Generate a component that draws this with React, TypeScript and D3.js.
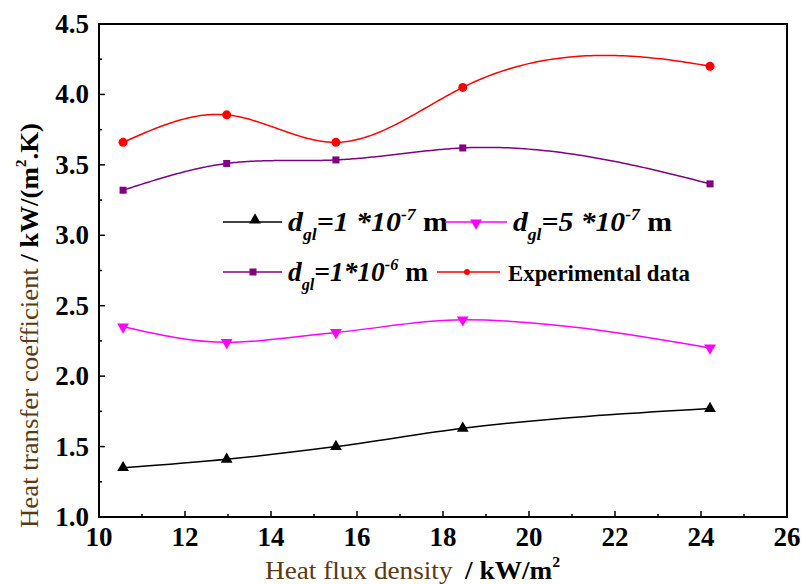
import React from "react";
import * as d3 from "d3";

const heatFlux = [10.56, 12.97, 15.51, 18.46, 24.21];
const series1e7 = [1.35, 1.41, 1.5, 1.63, 1.77];
const series5e7 = [2.35, 2.24, 2.31, 2.4, 2.2];
const series1e6 = [3.32, 3.51, 3.535, 3.62, 3.365];
const experimental = [3.66, 3.855, 3.66, 4.05, 4.2];
const xTicks = [10, 12, 14, 16, 18, 20, 22, 24, 26];
const yTicks = [1.0, 1.5, 2.0, 2.5, 3.0, 3.5, 4.0, 4.5];

const W = 804, H = 584;
const L = 99, R = 787, T = 24, B = 517;

// cubic spline (natural start, partial run-out end), sampled densely
function splinePoints(xs: number[], ys: number[], lamL: number, lamR: number): [number, number][] {
  const n = xs.length;
  const h = xs.slice(0, -1).map((v, i) => xs[i + 1] - v);
  const A: number[][] = Array.from({ length: n }, () => new Array(n + 1).fill(0));
  A[0][0] = 1; A[0][1] = -lamL;
  for (let i = 1; i < n - 1; i++) {
    A[i][i - 1] = h[i - 1];
    A[i][i] = 2 * (h[i - 1] + h[i]);
    A[i][i + 1] = h[i];
    A[i][n] = 6 * ((ys[i + 1] - ys[i]) / h[i] - (ys[i] - ys[i - 1]) / h[i - 1]);
  }
  const k = n - 1;
  A[k][k - 1] = -lamR; A[k][k] = 1;
  for (let c = 0; c < n; c++) {
    let p = c;
    for (let r = c + 1; r < n; r++) if (Math.abs(A[r][c]) > Math.abs(A[p][c])) p = r;
    [A[c], A[p]] = [A[p], A[c]];
    for (let r = 0; r < n; r++) {
      if (r === c) continue;
      const f = A[r][c] / A[c][c];
      for (let j = c; j <= n; j++) A[r][j] -= f * A[c][j];
    }
  }
  const M = A.map((row, i) => row[n] / row[i]);
  const out: [number, number][] = [];
  for (let i = 0; i < n - 1; i++) {
    const steps = 60;
    for (let s = 0; s <= steps; s++) {
      const t = xs[i] + (h[i] * s) / steps;
      const a = xs[i + 1] - t, b = t - xs[i];
      const v =
        (M[i] * a * a * a) / (6 * h[i]) +
        (M[i + 1] * b * b * b) / (6 * h[i]) +
        (ys[i] / h[i] - (M[i] * h[i]) / 6) * a +
        (ys[i + 1] / h[i] - (M[i + 1] * h[i]) / 6) * b;
      out.push([t, v]);
    }
  }
  return out;
}

export default function App() {
  const x = d3.scaleLinear().domain([10, 26]).range([L, R]);
  const y = d3.scaleLinear().domain([1, 4.5]).range([B, T]);
  const mk = (vals: number[], curve: any) =>
    d3.line<number>().x((_, i) => x(heatFlux[i])).y((v) => y(v)).curve(curve)(vals) || "";
  const mkSpline = (vals: number[], lamL: number, lamR: number) =>
    d3.line<[number, number]>().x((p) => x(p[0])).y((p) => y(p[1]))(splinePoints(heatFlux, vals, lamL, lamR)) || "";
  const font = "'Liberation Serif', 'DejaVu Serif', serif";
  const xMinor = d3.range(11, 26, 2);
  const yMinor = d3.range(1.25, 4.5, 0.5);
  const tri = d3.symbol().type(d3.symbolTriangle).size(60)();
  const sq = (cx: number, cy: number, c: string, k: string) => (
    <rect key={k} x={cx - 3.5} y={cy - 3.5} width={7} height={7} fill={c} />
  );
  const legendLabel = (xx: number, yy: number, num: string, exp: string, len: number) => (
    <text x={xx} y={yy} fontFamily={font} fontWeight="bold" fontSize={27} textLength={len} lengthAdjust="spacingAndGlyphs">
      <tspan fontStyle="italic">d</tspan>
      <tspan fontStyle="italic" fontSize={16} dy={9}>gl</tspan>
      <tspan fontStyle="italic" dy={-9}>{num}</tspan>
      <tspan fontStyle="italic" fontSize={16} dy={-11}>{exp}</tspan>
      <tspan dy={11}> m</tspan>
    </text>
  );
  return (
    <svg width={W} height={H} style={{ position: "absolute", left: 0, top: 0, background: "#fff" }}>
      <rect x={L} y={T} width={R - L} height={B - T} fill="none" stroke="#000" strokeWidth={2} />
      {xTicks.map((t) => (
        <g key={"xt" + t}>
          <line x1={x(t)} x2={x(t)} y1={B} y2={B - 6} stroke="#000" strokeWidth={1.5} />
          <text x={x(t)} y={B + 29} textAnchor="middle" fontFamily={font} fontWeight="bold" fontSize={27}>{t}</text>
        </g>
      ))}
      {xMinor.map((t) => (
        <line key={"xm" + t} x1={x(t)} x2={x(t)} y1={B} y2={B - 3} stroke="#000" strokeWidth={1.5} />
      ))}
      {yTicks.map((t) => (
        <g key={"yt" + t}>
          <line x1={L} x2={L + 6} y1={y(t)} y2={y(t)} stroke="#000" strokeWidth={1.5} />
          <text x={L - 10} y={y(t) + 9} textAnchor="end" fontFamily={font} fontWeight="bold" fontSize={27}>{t.toFixed(1)}</text>
        </g>
      ))}
      {yMinor.map((t) => (
        <line key={"ym" + t} x1={L} x2={L + 3} y1={y(t)} y2={y(t)} stroke="#000" strokeWidth={1.5} />
      ))}
      <path d={mk(series1e7, d3.curveMonotoneX)} fill="none" stroke="#000" strokeWidth={1.5} />
      <path d={mk(series5e7, d3.curveMonotoneX)} fill="none" stroke="#ff00ff" strokeWidth={1.5} />
      <path d={mkSpline(series1e6, 0, 0.15)} fill="none" stroke="#800080" strokeWidth={1.5} />
      <path d={mkSpline(experimental, 0, 0.2)} fill="none" stroke="#ff0000" strokeWidth={1.5} />
      {series1e7.map((v, i) => (
        <path key={"a" + i} d={tri} transform={`translate(${x(heatFlux[i])},${y(v)})`} fill="#000" />
      ))}
      {series5e7.map((v, i) => (
        <path key={"b" + i} d={tri} transform={`translate(${x(heatFlux[i])},${y(v)}) rotate(180)`} fill="#ff00ff" />
      ))}
      {series1e6.map((v, i) => sq(x(heatFlux[i]), y(v), "#800080", "c" + i))}
      {experimental.map((v, i) => (
        <circle key={"d" + i} cx={x(heatFlux[i])} cy={y(v)} r={4.5} fill="#ff0000" />
      ))}
      {/* legend */}
      <line x1={223} x2={282} y1={222} y2={222} stroke="#000" strokeWidth={1.5} />
      <path d={tri} transform="translate(255,220)" fill="#000" />
      {legendLabel(288, 231, "=1 *10", "-7", 160)}
      <line x1={445} x2={507} y1={222} y2={222} stroke="#ff00ff" strokeWidth={1.5} />
      <path d={tri} transform="translate(476,223) rotate(180)" fill="#ff00ff" />
      {legendLabel(513, 231, "=5 *10", "-7", 159)}
      <line x1={223} x2={282} y1={272} y2={272} stroke="#800080" strokeWidth={1.5} />
      {sq(253, 272, "#800080", "lsq")}
      {legendLabel(288, 281, "=1*10", "-6", 140)}
      <line x1={437} x2={500} y1={272} y2={272} stroke="#ff0000" strokeWidth={1.5} />
      <circle cx={467} cy={272} r={3} fill="#ff0000" />
      <text x={508} y={281} fontFamily={font} fontWeight="bold" fontSize={23} textLength={182} lengthAdjust="spacingAndGlyphs">Experimental data</text>
      {/* axis titles */}
      <text x={265} y={579} fontFamily={font} fontSize={26} textLength={295} lengthAdjust="spacingAndGlyphs">
        <tspan fill="#5a3a12">Heat flux density</tspan>
        <tspan fill="#000" fontWeight="bold" dx={12}>/ kW/m</tspan>
        <tspan fill="#000" fontWeight="bold" fontSize={15} dy={-12}>2</tspan>
      </text>
      <text transform="translate(38,528) rotate(-90)" fontFamily={font} fontSize={26} textLength={405} lengthAdjust="spacingAndGlyphs">
        <tspan fill="#5a3a12">Heat transfer coefficient</tspan>
        <tspan fill="#000" fontWeight="bold" dx={6}>/ kW/(m</tspan>
        <tspan fill="#000" fontWeight="bold" fontSize={15} dy={-12}>2</tspan>
        <tspan fill="#000" fontWeight="bold" dy={12}>.K)</tspan>
      </text>
    </svg>
  );
}
